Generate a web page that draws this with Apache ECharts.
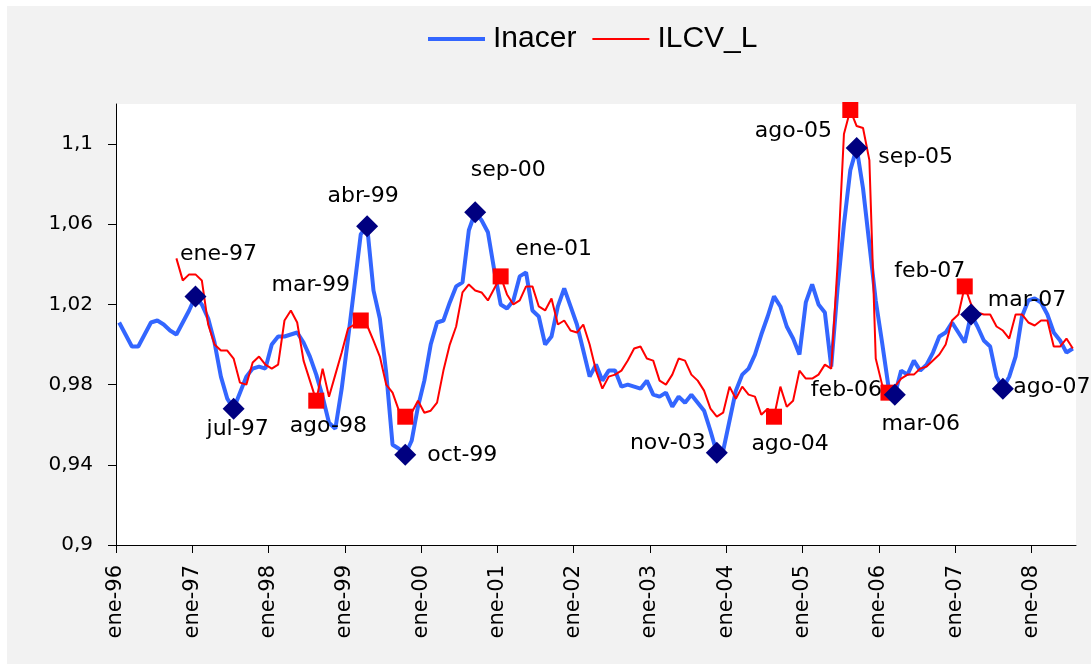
<!DOCTYPE html>
<html>
<head>
<meta charset="utf-8">
<script src="https://cdn.jsdelivr.net/npm/echarts@6/dist/echarts.min.js"></script>
<style>
html,body{margin:0;padding:0;background:#ffffff;}
#chart{position:absolute;left:7px;top:6px;width:1084px;height:658px;}
</style>
</head>
<body>
<div id="chart"></div>
<script>
// ---- categories (monthly, ene-96 .. jul-08) ----
const monthNames = ['ene','feb','mar','abr','may','jun','jul','ago','sep','oct','nov','dic'];
const firstYear = 1996;
const nMonths = 151;
const months = [];
for (let i = 0; i < nMonths; i++) {
  const y = (firstYear + Math.floor(i / 12)) % 100;
  months.push(monthNames[i % 12] + '-' + String(y).padStart(2, '0'));
}

// ---- series values ----
const inacer = [
  1.011,1.005,0.999,0.999,1.005,1.011,1.012,1.010,1.007,1.005,1.011,1.017,
  1.024,1.020,1.013,1.001,0.984,0.973,0.968,0.976,0.984,0.988,0.989,0.988,
  1.000,1.004,1.004,1.005,1.006,1.001,0.994,0.985,0.974,0.961,0.958,0.978,
  1.003,1.029,1.055,1.059,1.027,1.013,0.986,0.950,0.948,0.945,0.952,0.969,
  0.982,1.000,1.011,1.012,1.021,1.029,1.031,1.057,1.066,1.062,1.056,1.037,
  1.020,1.018,1.022,1.034,1.036,1.017,1.014,1.000,1.004,1.019,1.028,1.019,
  1.010,0.997,0.984,0.990,0.982,0.987,0.987,0.979,0.980,0.979,0.978,0.982,
  0.975,0.974,0.976,0.969,0.974,0.971,0.975,0.971,0.967,0.957,0.946,0.947,
  0.962,0.977,0.985,0.988,0.995,1.005,1.014,1.024,1.019,1.009,1.003,0.995,
  1.021,1.030,1.020,1.016,0.989,1.028,1.060,1.087,1.098,1.078,1.050,1.022,
  1.001,0.979,0.975,0.987,0.985,0.992,0.987,0.990,0.996,1.004,1.006,1.011,
  1.006,1.001,1.015,1.009,1.002,0.999,0.984,0.978,0.984,0.994,1.014,1.022,
  1.023,1.021,1.015,1.006,1.002,0.996,0.998
];
const ilcvL = [
  null,null,null,null,null,null,null,null,null,1.043,1.032,1.035,
  1.035,1.032,1.010,1.000,0.997,0.997,0.993,0.981,0.980,0.991,0.994,0.990,
  0.988,0.990,1.012,1.017,1.011,0.992,0.982,0.972,0.988,0.974,0.985,0.996,
  1.008,1.010,1.012,1.0095,1.002,0.994,0.980,0.976,0.967,0.964,0.966,0.972,
  0.966,0.967,0.971,0.987,1.000,1.009,1.026,1.030,1.027,1.026,1.022,1.028,
  1.034,1.025,1.020,1.022,1.029,1.029,1.019,1.017,1.023,1.010,1.012,1.007,
  1.006,1.010,1.000,0.987,0.978,0.984,0.985,0.987,0.992,0.998,0.999,0.993,
  0.992,0.982,0.980,0.985,0.993,0.992,0.985,0.982,0.977,0.968,0.964,0.966,
  0.979,0.973,0.979,0.975,0.974,0.965,0.968,0.964,0.979,0.969,0.972,0.987,
  0.983,0.983,0.985,0.990,0.988,1.040,1.105,1.117,1.109,1.108,1.092,0.993,
  0.980,0.976,0.979,0.983,0.985,0.985,0.988,0.989,0.992,0.995,1.000,1.012,
  1.015,1.029,1.020,1.016,1.015,1.015,1.009,1.007,1.003,1.015,1.015,1.011,
  1.0095,1.012,1.012,0.999,0.999,1.003,0.998
];

// ---- marked turning points ----
const inacerMarks = ['ene-97','jul-97','abr-99','oct-99','sep-00','nov-03','sep-05','mar-06','mar-07','ago-07'];
const ilcvMarks   = ['ago-98','mar-99','oct-99','ene-01','ago-04','ago-05','feb-06','feb-07'];

// ---- tick labels ----
const xTickLabels = ['ene-96','ene-97','ene-98','ene-99','ene-00','ene-01','ene-02','ene-03','ene-04','ene-05','ene-06','ene-07','ene-08'];
const yTickValues = [0.9, 0.94, 0.98, 1.02, 1.06, 1.1];
const yTickLabels = ['0,9','0,94','0,98','1,02','1,06','1,1'];

// ---- label placement (style only) ----
const inacerLabelOffsets = {
  'ene-97':[23,-42], 'jul-97':[4,21], 'abr-99':[-4,-30], 'oct-99':[57,0], 'sep-00':[33,-42],
  'nov-03':[-49,-10], 'sep-05':[59,9], 'mar-06':[26,30], 'mar-07':[56,-14], 'ago-07':[49,-1]
};
const ilcvLabelOffsets = {
  'ago-98':[12,26], 'mar-99':[-50,-35], 'ene-01':[53,-27], 'ago-04':[16,28],
  'ago-05':[-57,21], 'feb-06':[-42,-2], 'feb-07':[-35,-15]
};

const toPoints = arr => arr.map((v, i) => v == null ? null : [i + 0.5, v]).filter(p => p);
const markPoints = (names, arr, offsets) => names.map(n => {
  const i = months.indexOf(n);
  const off = offsets[n];
  return {
    value: [i + 0.5, arr[i]],
    label: off ? { show: true, offset: off, formatter: n } : { show: false }
  };
});

const labelFont = { fontFamily: 'DejaVu Sans', fontSize: 22, color: '#000000' };

const chart = echarts.init(document.getElementById('chart'), null, { renderer: 'canvas' });
chart.setOption({
  animation: false,
  backgroundColor: '#f2f2f2',
  legend: {
    left: 419, top: 18, padding: 0,
    itemWidth: 57, itemHeight: 4, itemGap: 15,
    itemStyle: { opacity: 0 },
    textStyle: { fontFamily: 'Liberation Sans', fontSize: 30, color: '#000000', padding: [0, 0, 0, 3] },
    data: [
      { name: 'Inacer', lineStyle: { width: 4, color: '#3366ff' } },
      { name: 'ILCV_L', lineStyle: { width: 2, color: '#ff0000' } }
    ]
  },
  grid: {
    left: 109, top: 98, width: 960, height: 441,
    show: true, backgroundColor: '#ffffff', borderWidth: 0, containLabel: false
  },
  xAxis: {
    type: 'value', min: 0, max: nMonths,
    axisLine: { show: true, onZero: false, lineStyle: { color: '#000000', width: 1 } },
    axisTick: { show: true, inside: false, length: 8, lineStyle: { color: '#000000' },
      customValues: xTickLabels.map(l => months.indexOf(l)) },
    axisLabel: { show: true, rotate: 90, margin: 20, fontFamily: 'DejaVu Sans', fontSize: 21, color: '#000000',
      customValues: xTickLabels.map(l => months.indexOf(l)),
      formatter: v => months[Math.round(v)] },
    splitLine: { show: false }
  },
  yAxis: {
    type: 'value', min: 0.9, max: 1.12,
    axisLine: { show: true, onZero: false, lineStyle: { color: '#000000', width: 1 } },
    axisTick: { show: true, inside: false, length: 8, lineStyle: { color: '#000000' }, customValues: yTickValues },
    axisLabel: { show: true, margin: 23, fontFamily: 'DejaVu Sans', fontSize: 20, color: '#000000',
      customValues: yTickValues,
      formatter: v => { const k = yTickValues.findIndex(t => Math.abs(t - v) < 1e-9); return k >= 0 ? yTickLabels[k] : ''; } },
    splitLine: { show: false }
  },
  series: [
    {
      name: 'Inacer', type: 'line', data: toPoints(inacer),
      symbol: 'none', showSymbol: false, z: 2,
      lineStyle: { color: '#3366ff', width: 4 }, itemStyle: { color: '#3366ff' }
    },
    {
      name: 'ILCV_L', type: 'line', data: toPoints(ilcvL),
      symbol: 'none', showSymbol: false, z: 3,
      lineStyle: { color: '#ff0000', width: 2 }, itemStyle: { color: '#ff0000' }
    },
    {
      name: 'ILCV_L marks', type: 'scatter', symbol: 'rect', symbolSize: 16, z: 4, clip: false,
      itemStyle: { color: '#ff0000', opacity: 1 },
      label: Object.assign({ position: 'inside', align: 'center', verticalAlign: 'middle' }, labelFont),
      data: markPoints(ilcvMarks, ilcvL, ilcvLabelOffsets)
    },
    {
      name: 'Inacer marks', type: 'scatter', symbol: 'diamond', symbolSize: 22, z: 5, clip: false,
      itemStyle: { color: '#000080', opacity: 1 },
      label: Object.assign({ position: 'inside', align: 'center', verticalAlign: 'middle' }, labelFont),
      data: markPoints(inacerMarks, inacer, inacerLabelOffsets)
    }
  ]
});
</script>
</body>
</html>
